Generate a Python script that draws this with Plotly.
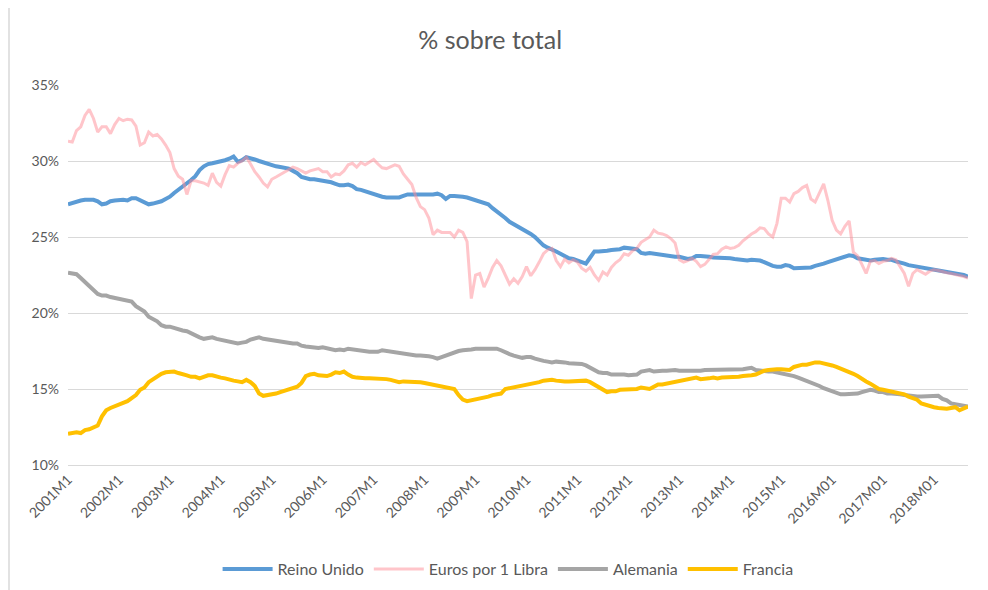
import plotly.graph_objects as go

# Monthly categories 2001M1 .. 2018M09
years = list(range(2001, 2019))
categories = []
for y in years:
    for m in range(1, 13):
        if y == 2018 and m > 9:
            break
        categories.append(f"{y}M{m}" if y <= 2015 else f"{y}M{m:02d}")

tick_labels = ["2001M1", "2002M1", "2003M1", "2004M1", "2005M1", "2006M1", "2007M1",
               "2008M1", "2009M1", "2010M1", "2011M1", "2012M1", "2013M1", "2014M1",
               "2015M1", "2016M01", "2017M01", "2018M01"]

y_ticks = [10, 15, 20, 25, 30, 35]
y_tick_text = ["10%", "15%", "20%", "25%", "30%", "35%"]

reino_unido = [
    27.15, 27.25, 27.35, 27.4, 27.45, 27.45, 27.45, 27.35, 27.15, 27.2, 27.35, 27.4,
    27.45, 27.45, 27.4, 27.55, 27.55, 27.4, 27.3, 27.15, 27.2, 27.25, 27.35, 27.5,
    27.65, 27.9, 28.1, 28.35, 28.55, 28.75, 29.0, 29.4, 29.65, 29.8, 29.85, 29.9,
    29.95, 30.05, 30.15, 30.3, 29.95, 30.05, 30.25, 30.2, 30.1, 30.0, 29.9, 29.85,
    29.75, 29.65, 29.6, 29.55, 29.5, 29.35, 29.2, 28.95, 28.85, 28.8, 28.8, 28.75,
    28.75, 28.65, 28.6, 28.5, 28.4, 28.4, 28.45, 28.35, 28.15, 28.1, 28.0, 27.95,
    27.85, 27.75, 27.65, 27.6, 27.6, 27.6, 27.6, 27.7, 27.8, 27.8, 27.8, 27.8,
    27.75, 27.8, 27.8, 27.85, 27.75, 27.5, 27.7, 27.7, 27.7, 27.65, 27.6, 27.5,
    27.45, 27.35, 27.25, 27.15, 26.9, 26.7, 26.5, 26.25, 26.0, 25.85, 25.7, 25.5,
    25.35, 25.2, 25.0, 24.7, 24.45, 24.3, 24.2, 24.05, 23.9, 23.75, 23.6, 23.55,
    23.45, 23.4, 23.25, 23.65, 24.05, 24.05, 24.05, 24.1, 24.15, 24.15, 24.2, 24.3,
    24.25, 24.2, 24.2, 23.95, 23.9, 23.95, 23.9, 23.85, 23.8, 23.8, 23.75, 23.7,
    23.7, 23.65, 23.55, 23.6, 23.75, 23.75, 23.75, 23.7, 23.65, 23.65, 23.65, 23.6,
    23.6, 23.55, 23.5, 23.45, 23.45, 23.5, 23.5, 23.45, 23.35, 23.2, 23.1, 23.05,
    23.05, 23.15, 23.1, 22.95, 22.95, 22.95, 22.95, 23.0, 23.1, 23.15, 23.25, 23.35,
    23.45, 23.55, 23.6, 23.7, 23.8, 23.75, 23.6, 23.55, 23.5, 23.45, 23.5, 23.55,
    23.55, 23.5, 23.5, 23.4, 23.35, 23.25, 23.15, 23.1, 23.1, 23.05, 23.0, 22.95,
    22.9, 22.85, 22.8, 22.75, 22.7, 22.6, 22.55, 22.5, 22.4,
]

euros_por_libra = [
    31.3, 31.25, 32.0, 32.25, 33.0, 33.4, 32.8, 31.9, 32.25, 32.25, 31.8, 32.4,
    32.8, 32.65, 32.75, 32.7, 32.3, 31.05, 31.2, 31.9, 31.65, 31.75, 31.45, 31.05,
    30.55, 29.5, 29.0, 28.8, 27.8, 28.7, 28.7, 28.65, 28.55, 28.4, 29.2, 28.6,
    28.35, 29.1, 29.7, 29.6, 29.85, 30.0, 30.25, 29.8, 29.3, 28.95, 28.55, 28.3,
    28.8, 28.95, 29.1, 29.3, 29.45, 29.6, 29.5, 29.35, 29.2, 29.35, 29.45, 29.5,
    29.3, 29.3, 28.95, 29.15, 29.1, 29.35, 29.75, 29.85, 29.6, 29.9, 29.75, 29.95,
    30.1, 29.8, 29.55, 29.5, 29.6, 29.75, 29.65, 29.15, 28.8, 28.45, 27.6, 27.0,
    26.8, 26.25, 25.15, 25.45, 25.3, 25.3, 25.3, 25.0, 25.45, 25.3, 24.7, 20.95,
    22.5, 22.6, 21.7, 22.3, 23.0, 23.45, 23.1, 22.5, 21.9, 22.25, 21.95, 22.4,
    23.05, 22.45, 22.85, 23.35, 23.9, 24.15, 24.25, 23.45, 23.05, 23.55, 23.3, 23.5,
    23.35, 22.95, 22.75, 23.0, 22.5, 22.15, 22.7, 22.5, 23.0, 23.3, 23.5, 23.9,
    23.8, 24.1, 24.25, 24.65, 24.85, 25.0, 25.45, 25.25, 25.2, 25.1, 24.9, 24.6,
    23.5, 23.35, 23.45, 23.6, 23.4, 23.05, 23.2, 23.5, 23.85, 23.9, 24.2, 24.35,
    24.25, 24.3, 24.45, 24.75, 25.0, 25.2, 25.35, 25.6, 25.55, 25.2, 25.0, 25.9,
    27.55, 27.55, 27.3, 27.85, 28.0, 28.25, 28.4, 27.5, 27.3, 27.9, 28.5, 27.4,
    26.1, 25.45, 25.2, 25.7, 26.05, 24.0, 23.75, 23.2, 22.6, 23.4, 23.45, 23.25,
    23.4, 23.45, 23.6, 23.5, 23.05, 22.6, 21.75, 22.6, 22.85, 22.7, 22.55, 22.75,
    22.85, 22.8, 22.7, 22.65, 22.6, 22.55, 22.5, 22.4, 22.3,
]

alemania = [
    22.65, 22.6, 22.55, 22.3, 22.05, 21.8, 21.55, 21.25, 21.15, 21.15, 21.05, 21.0,
    20.95, 20.9, 20.8, 20.75, 20.45, 20.3, 20.1, 19.75, 19.6, 19.45, 19.2, 19.1,
    19.1, 19.0, 18.9, 18.85, 18.8, 18.65, 18.5, 18.4, 18.3, 18.35, 18.4, 18.3,
    18.25, 18.15, 18.1, 18.05, 18.0, 18.05, 18.1, 18.25, 18.35, 18.4, 18.3, 18.25,
    18.2, 18.2, 18.15, 18.1, 18.05, 18.0, 18.0, 17.85, 17.8, 17.75, 17.75, 17.7,
    17.75, 17.7, 17.65, 17.55, 17.6, 17.55, 17.65, 17.6, 17.55, 17.5, 17.5, 17.45,
    17.45, 17.45, 17.55, 17.5, 17.45, 17.4, 17.35, 17.3, 17.25, 17.2, 17.2, 17.2,
    17.2, 17.15, 17.1, 17.0, 17.1, 17.2, 17.3, 17.45, 17.5, 17.55, 17.55, 17.6,
    17.65, 17.65, 17.65, 17.7, 17.7, 17.65, 17.55, 17.4, 17.3, 17.2, 17.1, 17.05,
    17.1, 17.1, 17.0, 16.9, 16.85, 16.8, 16.75, 16.8, 16.8, 16.75, 16.7, 16.7,
    16.65, 16.65, 16.55, 16.4, 16.2, 16.1, 16.05, 16.05, 15.95, 15.95, 16.0, 15.95,
    15.9, 15.9, 15.95, 16.15, 16.2, 16.25, 16.15, 16.2, 16.2, 16.2, 16.25, 16.25,
    16.2, 16.2, 16.2, 16.15, 16.2, 16.2, 16.25, 16.25, 16.3, 16.3, 16.25, 16.25,
    16.25, 16.3, 16.3, 16.3, 16.35, 16.4, 16.25, 16.2, 16.2, 16.15, 16.15, 16.1,
    16.05, 16.0, 15.95, 15.85, 15.75, 15.65, 15.55, 15.45, 15.3, 15.2, 15.05, 14.95,
    14.8, 14.7, 14.65, 14.65, 14.65, 14.65, 14.7, 14.8, 14.9, 14.95, 14.9, 14.8,
    14.8, 14.7, 14.7, 14.7, 14.65, 14.6, 14.55, 14.5, 14.5, 14.5, 14.5, 14.5,
    14.5, 14.55, 14.35, 14.25, 14.05, 14.0, 13.95, 13.9, 13.85,
]

francia = [
    12.05, 12.1, 12.15, 12.1, 12.3, 12.35, 12.45, 12.6, 13.2, 13.6, 13.75, 13.85,
    13.95, 14.05, 14.2, 14.4, 14.6, 14.95, 15.1, 15.45, 15.65, 15.85, 16.0, 16.1,
    16.15, 16.15, 16.05, 16.0, 15.9, 15.8, 15.8, 15.7, 15.8, 15.9, 15.9, 15.8,
    15.75, 15.7, 15.6, 15.55, 15.5, 15.45, 15.6, 15.45, 15.2, 14.7, 14.55, 14.6,
    14.6, 14.7, 14.8, 14.9, 15.0, 15.1, 15.15, 15.4, 15.85, 15.95, 16.0, 15.9,
    15.85, 15.85, 15.95, 16.1, 16.05, 16.15, 15.95, 15.8, 15.75, 15.7, 15.7, 15.7,
    15.7, 15.7, 15.7, 15.65, 15.6, 15.55, 15.45, 15.5, 15.5, 15.5, 15.45, 15.45,
    15.4, 15.35, 15.3, 15.25, 15.2, 15.1, 15.1, 15.0, 14.6, 14.3, 14.2, 14.25,
    14.3, 14.35, 14.4, 14.5, 14.6, 14.65, 14.7, 15.0, 15.05, 15.15, 15.2, 15.25,
    15.3, 15.3, 15.35, 15.45, 15.55, 15.6, 15.6, 15.55, 15.5, 15.5, 15.5, 15.5,
    15.5, 15.5, 15.55, 15.45, 15.3, 15.1, 14.95, 14.8, 14.85, 14.85, 14.95, 14.95,
    15.0, 15.0, 15.0, 15.1, 15.05, 15.0, 15.15, 15.3, 15.3, 15.35, 15.4, 15.45,
    15.5, 15.55, 15.65, 15.7, 15.75, 15.65, 15.65, 15.7, 15.75, 15.7, 15.75, 15.75,
    15.8, 15.8, 15.8, 15.85, 15.85, 15.9, 15.95, 16.1, 16.2, 16.25, 16.3, 16.3,
    16.3, 16.3, 16.25, 16.45, 16.55, 16.6, 16.6, 16.7, 16.75, 16.75, 16.7, 16.65,
    16.55, 16.45, 16.35, 16.25, 16.15, 16.0, 15.85, 15.65, 15.5, 15.35, 15.15, 15.0,
    14.95, 14.9, 14.85, 14.8, 14.75, 14.65, 14.5, 14.4, 14.3, 14.05, 13.95, 13.85,
    13.8, 13.75, 13.7, 13.7, 13.75, 13.8, 13.6, 13.75, 13.85,
]

series = [
    ("Reino Unido", reino_unido, "#5B9BD5", 4),
    ("Euros por 1 Libra", euros_por_libra, "rgba(255,140,150,0.5)", 3),
    ("Alemania", alemania, "#A5A5A5", 4),
    ("Francia", francia, "#FFC000", 4),
]

FONT = "Lato, 'Open Sans', sans-serif"
GREY_TXT = "#595959"

# The page body has an 8px default margin, so the figure is sized to fit the window.
W, H = 980, 582
ML, MT, PW, PH = 60, 77, 900, 380

fig = go.Figure()
for name, vals, color, w in series:
    fig.add_trace(go.Scatter(
        x=categories, y=vals, name=name, mode="lines",
        line=dict(color=color, width=w),
    ))

fig.update_layout(
    width=W, height=H,
    paper_bgcolor="white", plot_bgcolor="white",
    margin=dict(l=ML, r=W - ML - PW, t=MT, b=H - MT - PH, autoexpand=False),
    font=dict(family=FONT, size=14, color=GREY_TXT),
    title=dict(text="% sobre total", x=0.492, xanchor="center", y=1 - 32 / H, yanchor="middle",
               font=dict(family=FONT, size=25, color=GREY_TXT)),
    showlegend=True,
    legend=dict(orientation="h", x=0.489, xanchor="center", y=-104 / PH, yanchor="middle",
                font=dict(family=FONT, size=16, color=GREY_TXT),
                itemwidth=50, traceorder="normal"),
    xaxis=dict(
        type="category", categoryorder="array", categoryarray=categories,
        tickmode="array", tickvals=tick_labels, ticktext=tick_labels,
        tickangle=-45, showgrid=False, zeroline=False, automargin=False,
        showline=True, linecolor="#d9d9d9", linewidth=1,
        ticks="", range=[0, len(categories) - 1],
        tickfont=dict(family=FONT, size=14, color=GREY_TXT),
    ),
    yaxis=dict(
        range=[10, 35], tickmode="array", tickvals=y_ticks, ticktext=y_tick_text,
        showgrid=True, gridcolor="#d9d9d9", gridwidth=1, automargin=False,
        zeroline=False, showline=False, ticks="", ticklabelstandoff=8,
        tickfont=dict(family=FONT, size=14, color=GREY_TXT),
    ),
    shapes=[dict(type="line", xref="paper", yref="paper",
                 x0=(1 - ML) / PW, x1=(1 - ML) / PW,
                 y0=-(H - MT - PH) / PH, y1=(PH + MT) / PH,
                 line=dict(color="#d9d9d9", width=1.5), layer="below")],
)

fig.write_html("out.html")
